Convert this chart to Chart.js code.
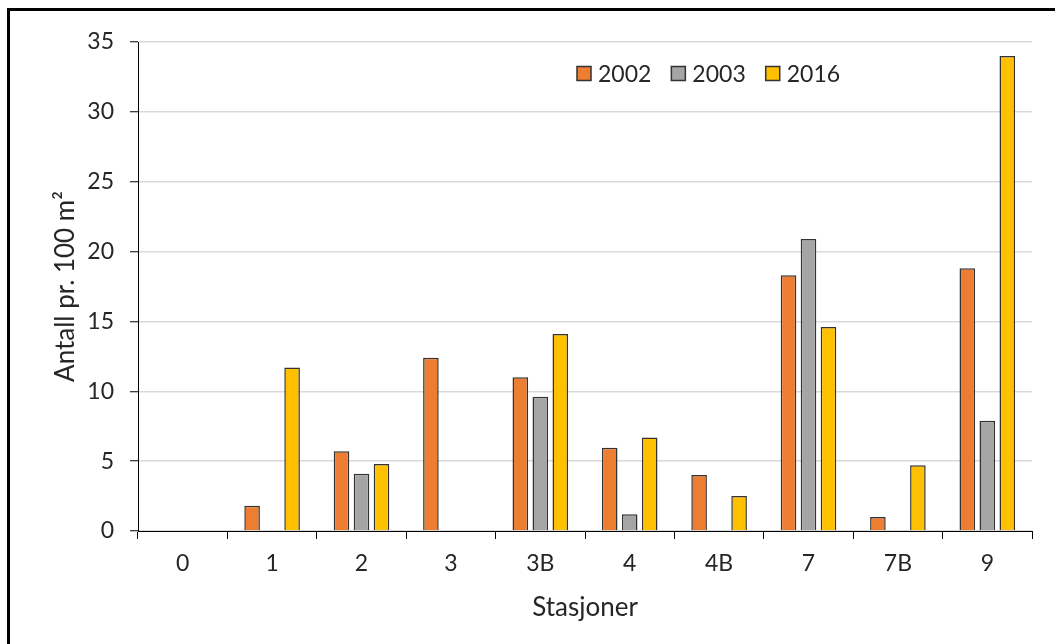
<!DOCTYPE html>
<html>
<head>
<meta charset="utf-8">
<script src="https://cdn.jsdelivr.net/npm/chart.js@4.4.1/dist/chart.umd.min.js"></script>
<style>
  html, body { margin: 0; padding: 0; background: #fff; overflow: hidden; }
  #wrap { position: relative; width: 1055px; height: 644px; }
  canvas { display: block; }
</style>
</head>
<body>
<div id="wrap"><canvas id="c" width="1055" height="644"></canvas></div>
<script>
// Stations along the x axis
const stations = ['0', '1', '2', '3', '3B', '4', '4B', '7', '7B', '9'];

// Counts per 100 m² for each survey year (null = no bar)
const y2002 = [null, 1.8, 5.7, 12.4, 11.0, 5.95, 4.0, 18.3, 1.0, 18.8];
const y2003 = [null, null, 4.1, null, 9.6, 1.2, null, 20.9, null, 7.9];
const y2016 = [null, 11.7, 4.8, null, 14.1, 6.7, 2.5, 14.6, 4.7, 34.0];

// Y axis range
const yMin = 0, yMax = 35, yStep = 5;

const FONT = 'Lato, "Open Sans", sans-serif';
const outline = '#333333';
const TICK_SIZE = 23;
const TITLE_SIZE = 26;

// Legend drawn inside the plot area, near the top
const insideLegend = {
  id: 'insideLegend',
  afterDraw(chart) {
    const ctx = chart.ctx;
    const area = chart.chartArea;
    let x = area.left + 439;
    const cy = 73.5;
    ctx.save();
    ctx.font = TICK_SIZE + 'px ' + FONT;
    ctx.textBaseline = 'middle';
    ctx.textAlign = 'left';
    chart.data.datasets.forEach(ds => {
      ctx.fillStyle = ds.backgroundColor;
      ctx.fillRect(x, cy - 7, 14, 14);
      ctx.strokeStyle = outline;
      ctx.lineWidth = 1.5;
      ctx.strokeRect(x, cy - 7, 14, 14);
      ctx.fillStyle = '#262626';
      ctx.fillText(ds.label, x + 21, cy + 1);
      x += 21 + ctx.measureText(ds.label).width + 20;
    });
    ctx.restore();
  }
};

// Thick frame along the left and top edges of the figure
const frame = {
  id: 'frame',
  beforeDraw(chart) {
    const ctx = chart.ctx;
    ctx.save();
    ctx.fillStyle = '#fff';
    ctx.fillRect(0, 0, chart.width, chart.height);
    ctx.restore();
  },
  afterDraw(chart) {
    const ctx = chart.ctx;
    ctx.save();
    ctx.strokeStyle = '#000';
    ctx.lineWidth = 3;
    ctx.beginPath();
    ctx.moveTo(8.5, chart.height + 5);
    ctx.lineTo(8.5, 9.5);
    ctx.lineTo(chart.width + 5, 9.5);
    ctx.stroke();
    ctx.restore();
  }
};

const common = {
  borderColor: outline,
  borderWidth: 1.5,
  categoryPercentage: 0.671,
  barPercentage: 0.78
};

new Chart(document.getElementById('c'), {
  type: 'bar',
  data: {
    labels: stations,
    datasets: [
      Object.assign({ label: '2002', data: y2002, backgroundColor: '#ED7D31' }, common),
      Object.assign({ label: '2003', data: y2003, backgroundColor: '#A5A5A5' }, common),
      Object.assign({ label: '2016', data: y2016, backgroundColor: '#FFC000' }, common)
    ]
  },
  options: {
    responsive: false,
    animation: false,
    layout: { padding: { left: 0, right: 23, top: 42, bottom: 0 } },
    plugins: {
      legend: { display: false },
      tooltip: { enabled: false }
    },
    scales: {
      x: {
        offset: true,
        grid: {
          offset: true,
          display: true,
          drawOnChartArea: false,
          drawTicks: true,
          tickLength: 8,
          tickColor: '#000',
          tickWidth: 1
        },
        border: { display: true, color: '#000', width: 1 },
        ticks: { color: '#262626', font: { family: FONT, size: TICK_SIZE }, padding: 11 },
        title: {
          display: true,
          text: 'Stasjoner',
          color: '#262626',
          font: { family: FONT, size: TITLE_SIZE },
          padding: { top: 0, bottom: 21 }
        },
        afterFit(scale) { scale.height = 113; }
      },
      y: {
        min: yMin,
        max: yMax,
        ticks: {
          stepSize: yStep,
          color: '#262626',
          font: { family: FONT, size: TICK_SIZE },
          padding: 16
        },
        grid: {
          color: '#d9d9d9',
          lineWidth: 1.5,
          drawTicks: true,
          tickLength: 8,
          tickColor: '#000',
          tickWidth: 1
        },
        border: { display: true, color: '#000', width: 1 },
        title: {
          display: true,
          text: 'Antall pr. 100 m²',
          color: '#262626',
          font: { family: FONT, size: TITLE_SIZE },
          padding: { top: 50, bottom: 0 }
        },
        afterFit(scale) { scale.width = 138; }
      }
    }
  },
  plugins: [frame, insideLegend]
});
</script>
</body>
</html>
